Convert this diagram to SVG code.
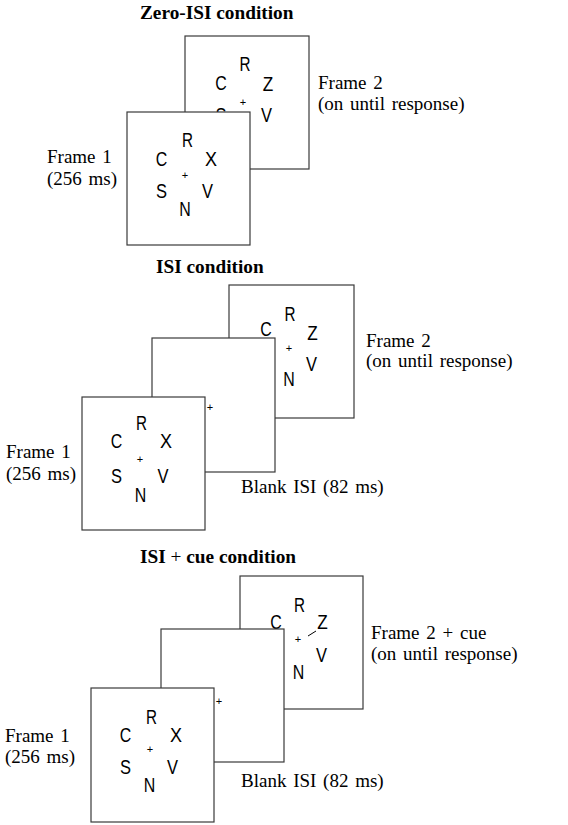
<svg xmlns="http://www.w3.org/2000/svg" width="568" height="825" viewBox="0 0 568 825">
<style>
.fr{fill:#fff;stroke:#3a3a3a;stroke-width:1.2}
.lt{font-family:"Liberation Sans",Arial,sans-serif;font-size:20.5px;fill:#000;text-anchor:middle}
.pl{font-family:"Liberation Sans",Arial,sans-serif;font-size:11px;fill:#000;text-anchor:middle}
.lb{font-family:"Liberation Serif","Times New Roman",serif;font-size:19px;fill:#000;word-spacing:2px}
.tt{font-family:"Liberation Serif","Times New Roman",serif;font-size:19.3px;font-weight:bold;fill:#000}
</style>
<!-- Panel 1 -->
<text class="tt" x="140" y="19">Zero-ISI condition</text>
<g id="p1-frame2">
<rect class="fr" x="185" y="36" width="124" height="133"/>
<text class="lt" x="221" y="90" textLength="11.5" lengthAdjust="spacingAndGlyphs">C</text><text class="lt" x="245" y="71" textLength="11" lengthAdjust="spacingAndGlyphs">R</text><text class="lt" x="268" y="91" textLength="10.5" lengthAdjust="spacingAndGlyphs">Z</text>
<text class="pl" x="243" y="105.5">+</text>
<text class="lt" x="221" y="122" textLength="11" lengthAdjust="spacingAndGlyphs">S</text><text class="lt" x="266.5" y="122" textLength="11" lengthAdjust="spacingAndGlyphs">V</text><text class="lt" x="245" y="138" textLength="11.5" lengthAdjust="spacingAndGlyphs">N</text>
</g>
<g id="p1-frame1">
<rect class="fr" x="127" y="112" width="123" height="133"/>
<text class="lt" x="187.5" y="147" textLength="11" lengthAdjust="spacingAndGlyphs">R</text><text class="lt" x="161.5" y="166" textLength="11.5" lengthAdjust="spacingAndGlyphs">C</text><text class="lt" x="211" y="166" textLength="12" lengthAdjust="spacingAndGlyphs">X</text>
<text class="pl" x="185" y="178.5">+</text>
<text class="lt" x="161.5" y="198" textLength="11" lengthAdjust="spacingAndGlyphs">S</text><text class="lt" x="207.5" y="198" textLength="11" lengthAdjust="spacingAndGlyphs">V</text><text class="lt" x="185" y="216" textLength="11.5" lengthAdjust="spacingAndGlyphs">N</text>
</g>
<text class="lb" x="318" y="89">Frame 2</text>
<text class="lb" x="318" y="110">(on until response)</text>
<text class="lb" x="47" y="163">Frame 1</text>
<text class="lb" x="47" y="185">(256 ms)</text>
<!-- Panel 2 -->
<text class="tt" x="156" y="273">ISI condition</text>
<g id="p2-frame2">
<rect class="fr" x="229" y="285" width="125" height="133"/>
<text class="lt" x="266" y="336" textLength="11.5" lengthAdjust="spacingAndGlyphs">C</text><text class="lt" x="290" y="321" textLength="11" lengthAdjust="spacingAndGlyphs">R</text><text class="lt" x="312.5" y="340" textLength="10.5" lengthAdjust="spacingAndGlyphs">Z</text>
<text class="pl" x="289" y="351.5">+</text>
<text class="lt" x="266" y="371" textLength="11" lengthAdjust="spacingAndGlyphs">S</text><text class="lt" x="311.5" y="371" textLength="11" lengthAdjust="spacingAndGlyphs">V</text><text class="lt" x="289" y="386" textLength="11.5" lengthAdjust="spacingAndGlyphs">N</text>
</g>
<g id="p2-blank">
<rect class="fr" x="152" y="338" width="123" height="134"/>
<text class="pl" x="210" y="410.5">+</text>
</g>
<g id="p2-frame1">
<rect class="fr" x="82" y="397" width="123" height="133"/>
<text class="lt" x="141.5" y="430" textLength="11" lengthAdjust="spacingAndGlyphs">R</text><text class="lt" x="116.5" y="448" textLength="11.5" lengthAdjust="spacingAndGlyphs">C</text><text class="lt" x="166" y="448" textLength="12" lengthAdjust="spacingAndGlyphs">X</text>
<text class="pl" x="140" y="462.5">+</text>
<text class="lt" x="116.5" y="483" textLength="11" lengthAdjust="spacingAndGlyphs">S</text><text class="lt" x="163" y="483" textLength="11" lengthAdjust="spacingAndGlyphs">V</text><text class="lt" x="140.5" y="502" textLength="11.5" lengthAdjust="spacingAndGlyphs">N</text>
</g>
<text class="lb" x="366" y="347">Frame 2</text>
<text class="lb" x="366" y="367">(on until response)</text>
<text class="lb" x="6" y="458">Frame 1</text>
<text class="lb" x="6" y="480">(256 ms)</text>
<text class="lb" x="241" y="493">Blank ISI (82 ms)</text>
<!-- Panel 3 -->
<text class="tt" x="140" y="563">ISI <tspan font-weight="normal">+</tspan> cue condition</text>
<g id="p3-frame2">
<rect class="fr" x="240" y="576" width="123" height="133"/>
<text class="lt" x="276" y="629" textLength="11.5" lengthAdjust="spacingAndGlyphs">C</text><text class="lt" x="299.5" y="612" textLength="11" lengthAdjust="spacingAndGlyphs">R</text><text class="lt" x="322.5" y="629" textLength="10.5" lengthAdjust="spacingAndGlyphs">Z</text>
<text class="pl" x="298" y="642.5">+</text>
<text class="lt" x="276" y="662" textLength="11" lengthAdjust="spacingAndGlyphs">S</text><text class="lt" x="321.5" y="662" textLength="11" lengthAdjust="spacingAndGlyphs">V</text><text class="lt" x="298.5" y="679" textLength="11.5" lengthAdjust="spacingAndGlyphs">N</text>
</g>
<g id="connectors">
<line x1="308" y1="636" x2="316" y2="631" stroke="#000" stroke-width="1"/>
</g>
<g id="p3-blank">
<rect class="fr" x="161" y="629" width="123" height="133"/>
<text class="pl" x="219" y="704.5">+</text>
</g>
<g id="p3-frame1">
<rect class="fr" x="91" y="688" width="123" height="134"/>
<text class="lt" x="151.5" y="724" textLength="11" lengthAdjust="spacingAndGlyphs">R</text><text class="lt" x="125.5" y="742" textLength="11.5" lengthAdjust="spacingAndGlyphs">C</text><text class="lt" x="176" y="742" textLength="12" lengthAdjust="spacingAndGlyphs">X</text>
<text class="pl" x="150" y="752.5">+</text>
<text class="lt" x="125.5" y="774" textLength="11" lengthAdjust="spacingAndGlyphs">S</text><text class="lt" x="172.5" y="774" textLength="11" lengthAdjust="spacingAndGlyphs">V</text><text class="lt" x="149.5" y="792" textLength="11.5" lengthAdjust="spacingAndGlyphs">N</text>
</g>
<text class="lb" x="371" y="639">Frame 2 + cue</text>
<text class="lb" x="371" y="660">(on until response)</text>
<text class="lb" x="5" y="742">Frame 1</text>
<text class="lb" x="5" y="763">(256 ms)</text>
<text class="lb" x="241" y="787">Blank ISI (82 ms)</text>
</svg>
